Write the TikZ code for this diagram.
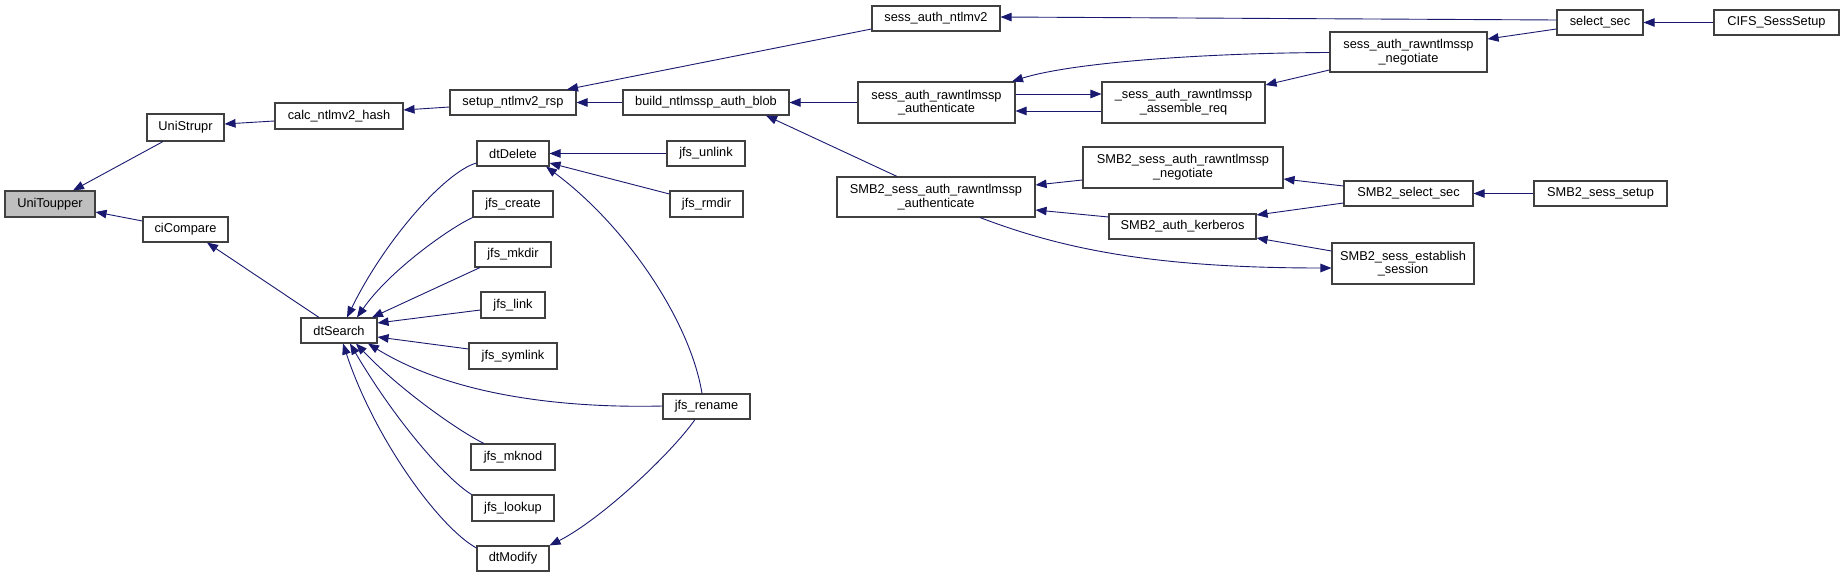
\documentclass[tikz,border=0pt]{standalone}
\usepackage{fontspec}
\setmainfont{Liberation Sans}
\usetikzlibrary{arrows.meta}
\definecolor{midnight}{HTML}{191970}
\definecolor{boxline}{HTML}{404040}
\definecolor{hilite}{HTML}{BFBFBF}
\begin{document}
\begin{tikzpicture}[x=1pt,y=-1pt,
  box/.style={draw=boxline, line width=1.1pt, fill=white, inner sep=0pt,
    font=\fontsize{12.8}{13.7}\selectfont, align=center},
  edge/.style={draw=midnight, line width=0.9pt, -{Triangle[length=11pt,width=8.5pt]}, color=midnight}]
\useasboundingbox (0,0) rectangle (1844,577);
\fill[white] (0,0) rectangle (1844,577);

% nodes
\node[box, fill=hilite, minimum width=90pt, minimum height=26pt] (UniToupper) at (50,204) {UniToupper};
\node[box, minimum width=77pt, minimum height=27pt] (UniStrupr) at (185.5,127.5) {UniStrupr};
\node[box, minimum width=85pt, minimum height=25pt] (ciCompare) at (185.5,229.5) {ciCompare};
\node[box, minimum width=128pt, minimum height=26pt] (calc) at (339,116) {calc\_ntlmv2\_hash};
\node[box, minimum width=126pt, minimum height=25pt] (setup) at (513,102.5) {setup\_ntlmv2\_rsp};
\node[box, minimum width=166pt, minimum height=25pt] (build) at (706,102.5) {build\_ntlmssp\_auth\_blob};
\node[box, minimum width=128pt, minimum height=25pt] (sessntlmv2) at (936,18.5) {sess\_auth\_ntlmv2};
\node[box, minimum width=157pt, minimum height=41pt] (sarA) at (936.5,102.5) {sess\_auth\_rawntlmssp\\\_authenticate};
\node[box, minimum width=163pt, minimum height=41pt] (assemble) at (1183.5,102.5) {\_sess\_auth\_rawntlmssp\\\_assemble\_req};
\node[box, minimum width=157pt, minimum height=40pt] (sarN) at (1408.5,52) {sess\_auth\_rawntlmssp\\\_negotiate};
\node[box, minimum width=86pt, minimum height=25pt] (selectsec) at (1600,22.5) {select\_sec};
\node[box, minimum width=125pt, minimum height=25pt] (CIFS) at (1776.5,22.5) {CIFS\_SessSetup};
\node[box, minimum width=198pt, minimum height=40pt] (s2A) at (936,197) {SMB2\_sess\_auth\_rawntlmssp\\\_authenticate};
\node[box, minimum width=200pt, minimum height=41pt] (s2N) at (1183,167.5) {SMB2\_sess\_auth\_rawntlmssp\\\_negotiate};
\node[box, minimum width=147pt, minimum height=25pt] (kerb) at (1182.5,226.5) {SMB2\_auth\_kerberos};
\node[box, minimum width=142pt, minimum height=41pt] (establish) at (1403,263.5) {SMB2\_sess\_establish\\\_session};
\node[box, minimum width=129pt, minimum height=25pt] (s2sel) at (1408.5,193.5) {SMB2\_select\_sec};
\node[box, minimum width=133pt, minimum height=25pt] (s2setup) at (1600.5,193.5) {SMB2\_sess\_setup};
\node[box, minimum width=76pt, minimum height=25pt] (dtSearch) at (339,330.5) {dtSearch};
\node[box, minimum width=72pt, minimum height=25pt] (dtDelete) at (513,153.5) {dtDelete};
\node[box, minimum width=80pt, minimum height=26pt] (jfscreate) at (513,204) {jfs\_create};
\node[box, minimum width=76pt, minimum height=25pt] (jfsmkdir) at (513,254.5) {jfs\_mkdir};
\node[box, minimum width=64pt, minimum height=26pt] (jfslink) at (513,305) {jfs\_link};
\node[box, minimum width=88pt, minimum height=26pt] (jfssymlink) at (513,356) {jfs\_symlink};
\node[box, minimum width=84pt, minimum height=26pt] (jfsmknod) at (513,457) {jfs\_mknod};
\node[box, minimum width=82pt, minimum height=26pt] (jfslookup) at (513,508) {jfs\_lookup};
\node[box, minimum width=72pt, minimum height=25pt] (dtModify) at (513,558.5) {dtModify};
\node[box, minimum width=78pt, minimum height=25pt] (jfsunlink) at (706,153.5) {jfs\_unlink};
\node[box, minimum width=73pt, minimum height=26pt] (jfsrmdir) at (706.5,204) {jfs\_rmdir};
\node[box, minimum width=87pt, minimum height=25pt] (jfsrename) at (706.5,406.5) {jfs\_rename};

% edges (caller -> callee, arrow at callee)
\draw[edge] (UniStrupr.south -| 163,0) -- (UniToupper.north -| 73,0);
\draw[edge] (ciCompare.west |- 0,221) -- (UniToupper.east |- 0,212);
\draw[edge] (calc.west |- 0,121) -- (UniStrupr.east |- 0,124);
\draw[edge] (dtSearch.north -| 319,0) -- (ciCompare.south -| 207,0);
\draw[edge] (setup.west |- 0,107) -- (calc.east |- 0,110);
\draw[edge] (sessntlmv2.west |- 0,29) -- (setup.north -| 567,0);
\draw[edge] (build.west) -- (setup.east);
\draw[edge] (sarA.west) -- (build.east);
\draw[edge] (s2A.north -| 897,0) -- (build.south -| 766,0);
\draw[edge] (selectsec.west |- 0,20) -- (sessntlmv2.east |- 0,17);
\draw[edge] (sarN.west |- 0,52.5) .. controls (1200,53) and (1070,63) .. (sarA.north -| 1012,0);
\draw[edge] (assemble.west |- 0,111) -- (sarA.east |- 0,111);
\draw[edge] (sarA.east |- 0,94) -- (assemble.west |- 0,94);
\draw[edge] (sarN.west |- 0,70) -- (assemble.east |- 0,85);
\draw[edge] (selectsec.west |- 0,29) -- (sarN.east |- 0,39);
\draw[edge] (CIFS.west) -- (selectsec.east);
\draw[edge] (s2N.west |- 0,180) -- (s2A.east |- 0,185);
\draw[edge] (kerb.west |- 0,217) -- (s2A.east |- 0,210);
\draw[edge] (s2A.south -| 980,0) .. controls (1060,248) and (1150,268) .. (establish.west |- 0,268);
\draw[edge] (s2sel.west |- 0,186) -- (s2N.east |- 0,179);
\draw[edge] (s2sel.west |- 0,203) -- (kerb.east |- 0,215);
\draw[edge] (establish.west |- 0,251) -- (kerb.east |- 0,238);
\draw[edge] (s2setup.west) -- (s2sel.east);
\draw[edge] (dtDelete.west |- 0,163) .. controls (445,172) and (385,240) .. (dtSearch.north -| 347,0);
\draw[edge] (jfscreate.south west) .. controls (450,228) and (390,270) .. (dtSearch.north -| 357,0);
\draw[edge] (jfsmkdir.south -| 480,0) -- (dtSearch.north -| 372,0);
\draw[edge] (jfslink.west |- 0,310) -- (dtSearch.east |- 0,323);
\draw[edge] (jfssymlink.west |- 0,349) -- (dtSearch.east |- 0,337);
\draw[edge] (jfsrename.west |- 0,406) .. controls (580,408) and (460,400) .. (dtSearch.south -| 368,0);
\draw[edge] (jfsmknod.north -| 484,0) .. controls (460,432) and (400,390) .. (dtSearch.south -| 356,0);
\draw[edge] (jfslookup.north west) .. controls (445,478) and (395,420) .. (dtSearch.south -| 350,0);
\draw[edge] (dtModify.west |- 0,548) .. controls (440,528) and (375,440) .. (dtSearch.south -| 343,0);
\draw[edge] (jfsunlink.west) -- (dtDelete.east);
\draw[edge] (jfsrmdir.west |- 0,194) -- (dtDelete.east |- 0,163);
\draw[edge] (jfsrename.north -| 702,0) .. controls (690,320) and (625,225) .. (dtDelete.south -| 546,0);
\draw[edge] (jfsrename.south -| 695,0) .. controls (670,455) and (600,520) .. (dtModify.north east);
\end{tikzpicture}
\end{document}
